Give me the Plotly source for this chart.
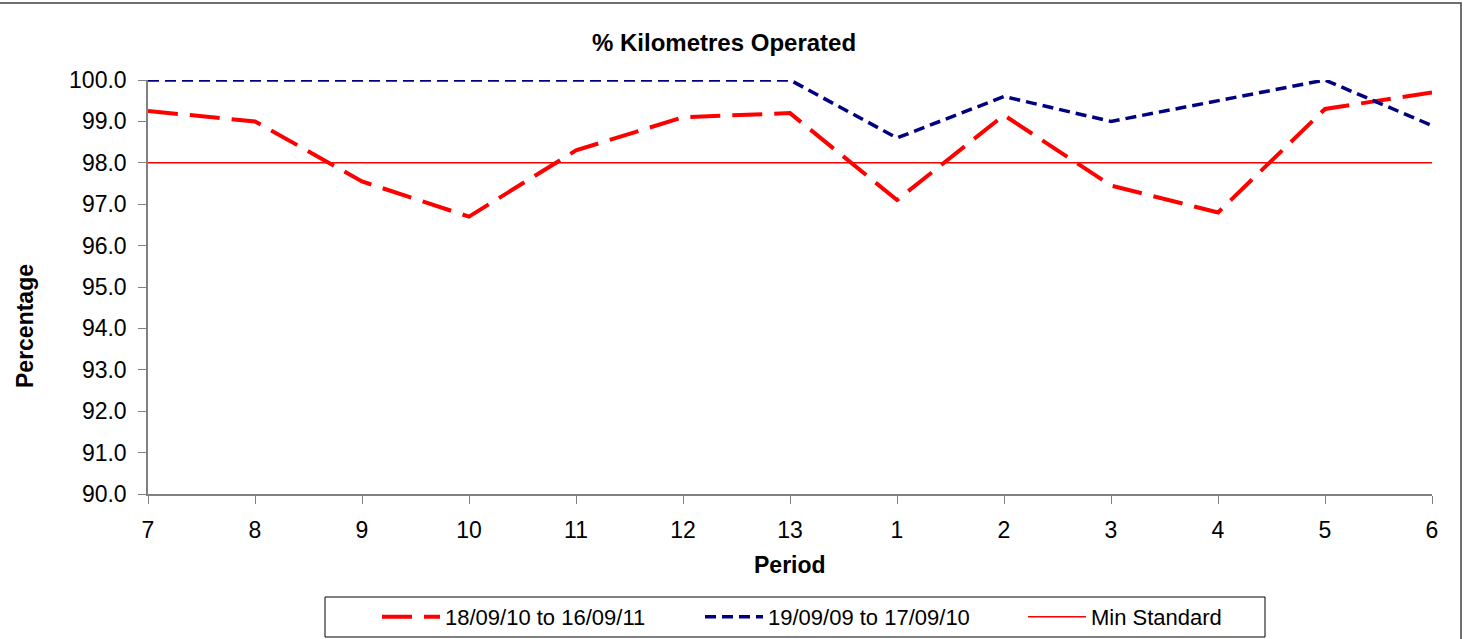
import plotly.graph_objects as go

periods = ["7", "8", "9", "10", "11", "12", "13", "1", "2", "3", "4", "5", "6"]
current = [99.25, 99.0, 97.55, 96.7, 98.3, 99.1, 99.2, 97.1, 99.15, 97.45, 96.8, 99.3, 99.7]
previous = [100.0, 100.0, 100.0, 100.0, 100.0, 100.0, 100.0, 98.6, 99.6, 99.0, 99.5, 100.0, 98.9]
min_standard = [98.0] * len(periods)

names = ["18/09/10 to 16/09/11", "19/09/09 to 17/09/10", "Min Standard"]
y_ticks = [90 + i for i in range(11)]

x_idx = list(range(len(periods)))

W, H = 1465, 639
L, R, T, B = 148, 1432, 80, 494


def px_x(p):
    return (p - L) / (R - L)


def px_y(p):
    return (B - p) / (B - T)


fig = go.Figure()
fig.add_trace(go.Scatter(x=x_idx, y=current, mode="lines", name=names[0],
                         line=dict(color="#FF0000", width=4, dash="30px,12px")))
fig.add_trace(go.Scatter(x=x_idx, y=previous, mode="lines", name=names[1],
                         line=dict(color="#000080", width=3.5, dash="11px,6px")))
fig.add_trace(go.Scatter(x=x_idx, y=min_standard, mode="lines", name=names[2],
                         line=dict(color="#FF0000", width=1.5)))

font_family = "Liberation Sans, Arial, sans-serif"

fig.update_layout(
    width=W, height=H,
    margin=dict(l=L, r=W - R, t=T, b=H - B),
    paper_bgcolor="white", plot_bgcolor="white",
    font=dict(family=font_family, color="black", size=23),
    showlegend=True,
    legend=dict(orientation="h", x=377 / W, xref="container", xanchor="left",
                y=1 - 617 / H, yref="container", yanchor="middle",
                borderwidth=0, bgcolor="rgba(0,0,0,0)",
                font=dict(size=22), itemwidth=58, entrywidth=250,
                tracegroupgap=0),
    xaxis=dict(range=[0, len(periods) - 1], tickmode="array", tickvals=x_idx,
               ticktext=periods, showgrid=False, zeroline=False,
               showline=True, linecolor="#808080", linewidth=1.5,
               ticks="outside", ticklen=8, tickcolor="#808080",
               ticklabelstandoff=7, tickfont=dict(size=23)),
    yaxis=dict(range=[90, 100], tickmode="array", tickvals=y_ticks,
               ticktext=[f"{v:.1f}" for v in y_ticks], showgrid=False, zeroline=False,
               showline=True, linecolor="#808080", linewidth=1.5,
               ticks="outside", ticklen=8, tickcolor="#808080",
               ticklabelstandoff=7, tickfont=dict(size=23)),
    annotations=[
        dict(text="<b>% Kilometres Operated</b>", xref="paper", yref="paper",
             x=px_x(724), y=px_y(42), xanchor="center", yanchor="middle",
             showarrow=False, font=dict(size=24)),
        dict(text="<b>Period</b>", xref="paper", yref="paper",
             x=px_x(790), y=px_y(565), xanchor="center", yanchor="middle",
             showarrow=False, font=dict(size=23)),
        dict(text="<b>Percentage</b>", xref="paper", yref="paper",
             x=px_x(25), y=px_y(326), xanchor="center", yanchor="middle",
             showarrow=False, textangle=-90, font=dict(size=23)),
    ],
)

# outer chart frame (top and right edges visible)
fig.add_shape(type="rect", xref="paper", yref="paper",
              x0=px_x(-10), x1=px_x(1461), y0=px_y(650), y1=px_y(3),
              line=dict(color="#404040", width=1.5), layer="below")
# legend frame
fig.add_shape(type="rect", xref="paper", yref="paper",
              x0=px_x(325), x1=px_x(1265), y0=px_y(637), y1=px_y(597),
              line=dict(color="black", width=1), fillcolor="white", layer="below")

fig.write_html("out.html", config={"displayModeBar": False},
               post_script="document.body.style.margin='0px';document.body.style.overflow='hidden';")
